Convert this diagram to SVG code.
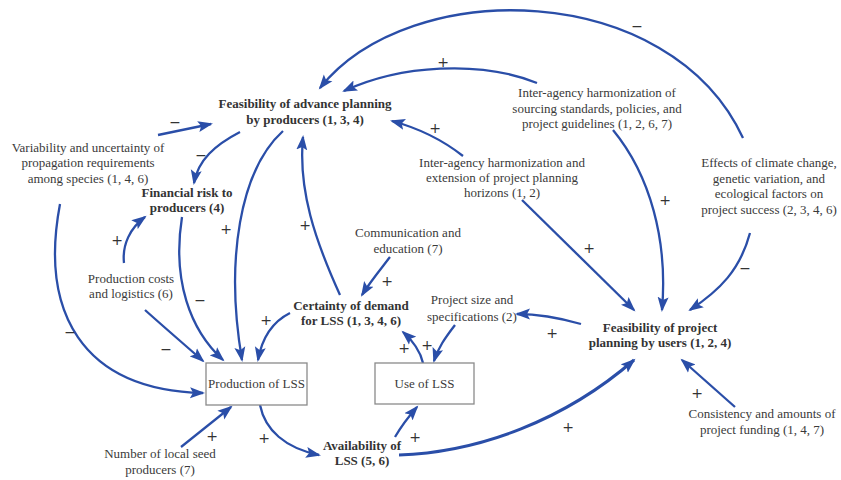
<svg xmlns="http://www.w3.org/2000/svg" width="841" height="480" viewBox="0 0 841 480">
<style>
  text { font-family: "Liberation Serif", "Times New Roman", serif; font-size: 13px; fill: #3a3a3a; text-anchor: middle; }
  .b { font-weight: bold; fill: #333; }
  .box { fill: #fff; stroke: #8a8a8a; stroke-width: 1.3; }
  .c { fill: none; stroke: #2a4ea8; stroke-width: 2.3; marker-end: url(#ah); }
  .thick { stroke-width: 3; }
  .s { font-family: "DejaVu Sans", "Liberation Sans", sans-serif; font-size: 14px; fill: #333; }
</style>
<defs>
  <marker id="ah" markerUnits="userSpaceOnUse" markerWidth="16" markerHeight="12" viewBox="0 0 16 12" refX="13" refY="6" orient="auto">
    <path d="M0,0.5 L15,6 L0,11.5 L3,6 z" fill="#2a4ea8"/>
  </marker>
</defs>
<rect width="841" height="480" fill="#fff"/>

<g id="connectors">
  <path class="c" d="M743,138 C 670,-20 410,-25 320,88"/>
  <text class="s" x="637" y="31">−</text>
  <path class="c" d="M537,83 C 480,60 400,65 344,91"/>
  <text class="s" x="443" y="67">+</text>
  <path class="c" d="M463,156 C 440,138 418,128 392,121"/>
  <text class="s" x="435" y="133">+</text>
  <path class="c" d="M613,130 C 650,175 668,240 662,310"/>
  <text class="s" x="665" y="205">+</text>
  <path class="c" d="M750,233 C 740,270 720,290 690,310"/>
  <text class="s" x="745" y="273">−</text>
  <path class="c" d="M522,200 L 634,310"/>
  <text class="s" x="589" y="253">+</text>
  <path class="c" d="M581,324 C 560,318 540,314 517,314"/>
  <text class="s" x="552" y="338">+</text>
  <path class="c" d="M735,407 L 682,360"/>
  <text class="s" x="697" y="398">+</text>
  <path class="c thick" d="M399,455 C 480,452 565,420 634,360"/>
  <text class="s" x="568" y="432">+</text>
  <path class="c" d="M395,437 C 402,425 410,415 417,407"/>
  <text class="s" x="415" y="442">+</text>
  <path class="c" d="M423,363 C 420,350 412,340 403,332"/>
  <text class="s" x="404" y="353">+</text>
  <path class="c" d="M455,325 C 445,338 438,348 434,361"/>
  <text class="s" x="427" y="350">+</text>
  <path class="c" d="M390,257 C 380,270 370,282 362,295"/>
  <text class="s" x="387" y="286">+</text>
  <path class="c" d="M340,295 C 315,240 298,190 303,137"/>
  <text class="s" x="305" y="230">+</text>
  <path class="c" d="M290,313 C 272,322 262,338 258,360"/>
  <text class="s" x="266" y="325">+</text>
  <path class="c" d="M283,131 C 240,170 225,260 242,360"/>
  <text class="s" x="226" y="234">+</text>
  <path class="c" d="M182,217 C 172,280 190,330 223,360"/>
  <text class="s" x="200" y="305">−</text>
  <path class="c" d="M145,310 C 165,328 185,345 203,361"/>
  <text class="s" x="166" y="354">−</text>
  <path class="c" d="M60,204 C 40,310 80,390 203,393"/>
  <text class="s" x="70" y="337">−</text>
  <path class="c" d="M158,135 L 211,124"/>
  <text class="s" x="175" y="127">−</text>
  <path class="c" d="M240,132 C 215,145 198,160 194,183"/>
  <text class="s" x="201" y="160">−</text>
  <path class="c" d="M124,263 C 122,245 130,228 145,217"/>
  <text class="s" x="117" y="245">+</text>
  <path class="c" d="M181,447 L 231,407"/>
  <text class="s" x="212" y="441">+</text>
  <path class="c" d="M260,405 C 265,430 285,448 319,455"/>
  <text class="s" x="264" y="443">+</text>
</g>

<g id="feasibility-advance">
  <text class="b" x="305" y="108">Feasibility of advance planning</text>
  <text class="b" x="305" y="124">by producers (1, 3, 4)</text>
</g>
<g id="variability">
  <text x="88" y="152">Variability and uncertainty of</text>
  <text x="88" y="167">propagation requirements</text>
  <text x="88" y="183">among species (1, 4, 6)</text>
</g>
<g id="financial-risk">
  <text class="b" x="187" y="197">Financial risk to</text>
  <text class="b" x="187" y="212">producers (4)</text>
</g>
<g id="production-costs">
  <text x="131" y="283">Production costs</text>
  <text x="131" y="298">and logistics (6)</text>
</g>
<g id="production">
  <rect class="box" x="206" y="363" width="101" height="42"/>
  <text x="256.5" y="388">Production of LSS</text>
</g>
<g id="local-producers">
  <text x="160" y="458">Number of local seed</text>
  <text x="160" y="474">producers (7)</text>
</g>
<g id="certainty">
  <text class="b" x="351" y="310">Certainty of demand</text>
  <text class="b" x="351" y="325">for LSS (1, 3, 4, 6)</text>
</g>
<g id="communication">
  <text x="408" y="237">Communication and</text>
  <text x="408" y="253">education (7)</text>
</g>
<g id="project-size">
  <text x="472" y="304">Project size and</text>
  <text x="472" y="321">specifications (2)</text>
</g>
<g id="use">
  <rect class="box" x="375" y="363" width="99" height="41"/>
  <text x="424.5" y="388">Use of LSS</text>
</g>
<g id="availability">
  <text class="b" x="362" y="450">Availability of</text>
  <text class="b" x="362" y="465">LSS (5, 6)</text>
</g>
<g id="feasibility-project">
  <text class="b" x="660" y="332">Feasibility of project</text>
  <text class="b" x="660" y="347">planning by users (1, 2, 4)</text>
</g>
<g id="funding">
  <text x="762" y="418">Consistency and amounts of</text>
  <text x="762" y="434">project funding (1, 4, 7)</text>
</g>
<g id="climate">
  <text x="769" y="167">Effects of climate change,</text>
  <text x="769" y="183">genetic variation, and</text>
  <text x="769" y="198">ecological factors on</text>
  <text x="769" y="214">project success (2, 3, 4, 6)</text>
</g>
<g id="sourcing">
  <text x="597" y="97">Inter-agency harmonization of</text>
  <text x="597" y="113">sourcing standards, policies, and</text>
  <text x="597" y="128">project guidelines (1, 2, 6, 7)</text>
</g>
<g id="horizons">
  <text x="502" y="167">Inter-agency harmonization and</text>
  <text x="502" y="182">extension of project planning</text>
  <text x="502" y="197">horizons (1, 2)</text>
</g>
</svg>
